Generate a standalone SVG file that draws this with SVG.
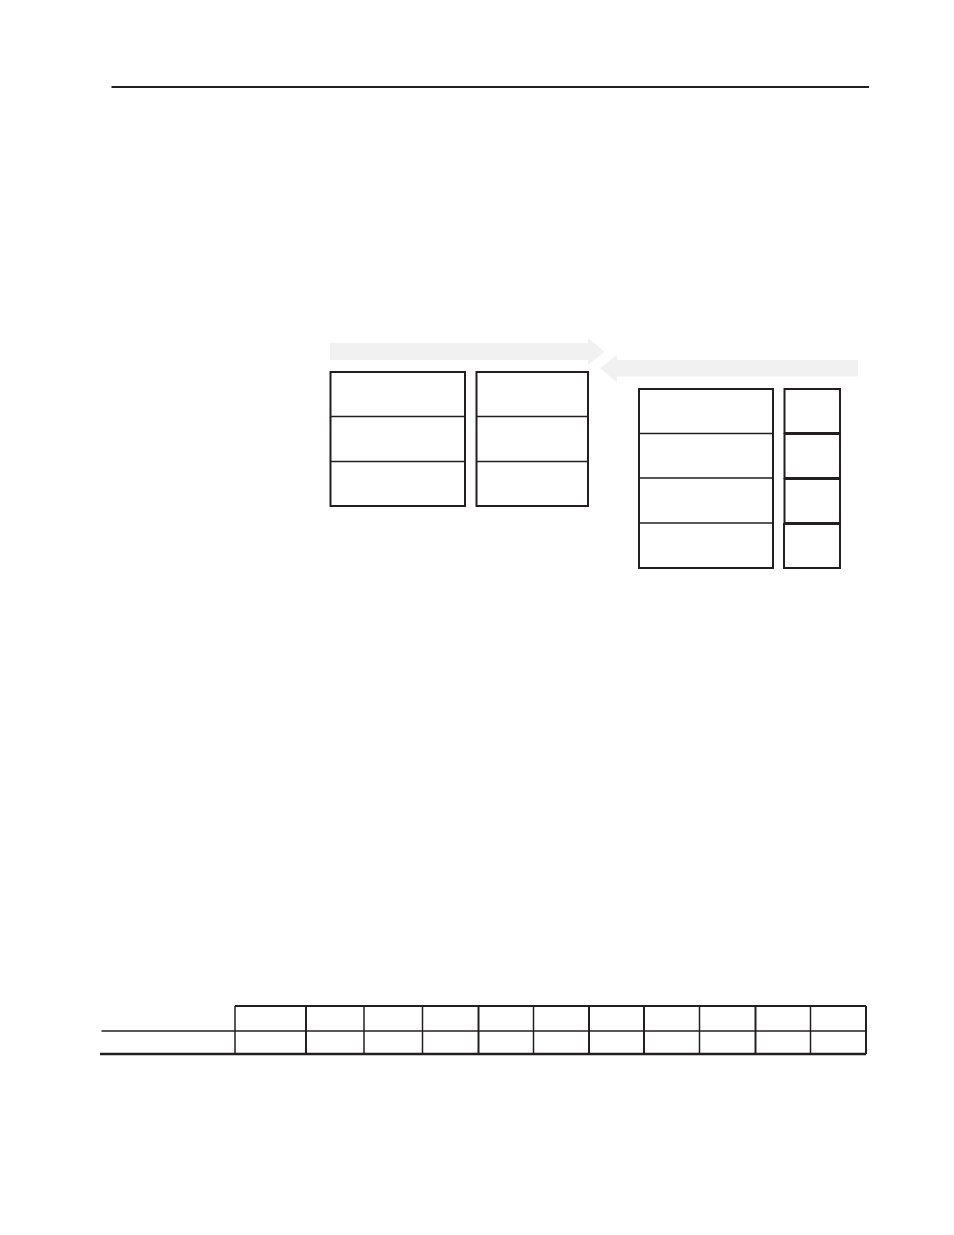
<svg xmlns="http://www.w3.org/2000/svg" width="954" height="1235" viewBox="0 0 954 1235">
<style>
.box{fill:#fff;stroke:#231f20;stroke-width:2}
.div{stroke:#231f20;stroke-width:1.5;fill:none}
.arrow{fill:#f1f1f1;stroke:none}
.rule{stroke:#231f20;fill:none}
</style>
<rect width="954" height="1235" fill="#fff"/>
<line class="rule" x1="111.5" y1="87" x2="869" y2="87" stroke-width="2"/>
<g id="connectors">
<polygon class="arrow" points="330,343 588,343 588,338 605,352 588,365 588,360 330,360"/>
<polygon class="arrow" points="858,360 617,360 617,355 600,368 617,382.5 617,376.5 858,376.5"/>
</g>
<g id="node-left-a">
<rect class="box" x="330.5" y="372" width="134.5" height="134"/>
<line class="div" x1="330.5" y1="416.5" x2="465" y2="416.5"/>
<line class="div" x1="330.5" y1="461.5" x2="465" y2="461.5"/>
</g>
<g id="node-left-b">
<rect class="box" x="476.5" y="372" width="111.5" height="134"/>
<line class="div" x1="476.5" y1="416.5" x2="588" y2="416.5"/>
<line class="div" x1="476.5" y1="461.5" x2="588" y2="461.5"/>
</g>
<g id="node-right-a">
<rect class="box" x="639" y="389" width="134" height="179"/>
<line class="div" x1="639" y1="433.5" x2="773" y2="433.5"/>
<line class="div" x1="639" y1="478" x2="773" y2="478" stroke-width="2"/>
<line class="div" x1="639" y1="523" x2="773" y2="523" stroke-width="2"/>
</g>
<g id="node-right-b">
<rect class="box" x="784.5" y="389" width="55.5" height="44"/>
<rect class="box" x="784.5" y="434" width="55.5" height="44"/>
<rect class="box" x="784.5" y="479" width="55.5" height="44"/>
<rect class="box" x="784" y="524" width="56" height="44"/>
</g>
<g id="table">
<line class="rule" x1="235" y1="1006" x2="866" y2="1006" stroke-width="2"/>
<line class="rule" x1="101.5" y1="1031" x2="866" y2="1031" stroke-width="1.5"/>
<line class="rule" x1="100" y1="1054" x2="866" y2="1054" stroke-width="2.5"/>
<g class="rule" stroke-width="1.5">
<line x1="235" y1="1006" x2="235" y2="1054"/>
<line x1="306" y1="1006" x2="306" y2="1054" stroke-width="2"/>
<line x1="364" y1="1006" x2="364" y2="1054"/>
<line x1="422.5" y1="1006" x2="422.5" y2="1054"/>
<line x1="478.5" y1="1006" x2="478.5" y2="1054" stroke-width="2"/>
<line x1="533.5" y1="1006" x2="533.5" y2="1054"/>
<line x1="589" y1="1006" x2="589" y2="1054" stroke-width="2"/>
<line x1="644" y1="1006" x2="644" y2="1054" stroke-width="2"/>
<line x1="699.5" y1="1006" x2="699.5" y2="1054"/>
<line x1="755.5" y1="1006" x2="755.5" y2="1054" stroke-width="2"/>
<line x1="810.5" y1="1006" x2="810.5" y2="1054"/>
<line x1="866" y1="1006" x2="866" y2="1054" stroke-width="2"/>
</g>
</g>
</svg>
